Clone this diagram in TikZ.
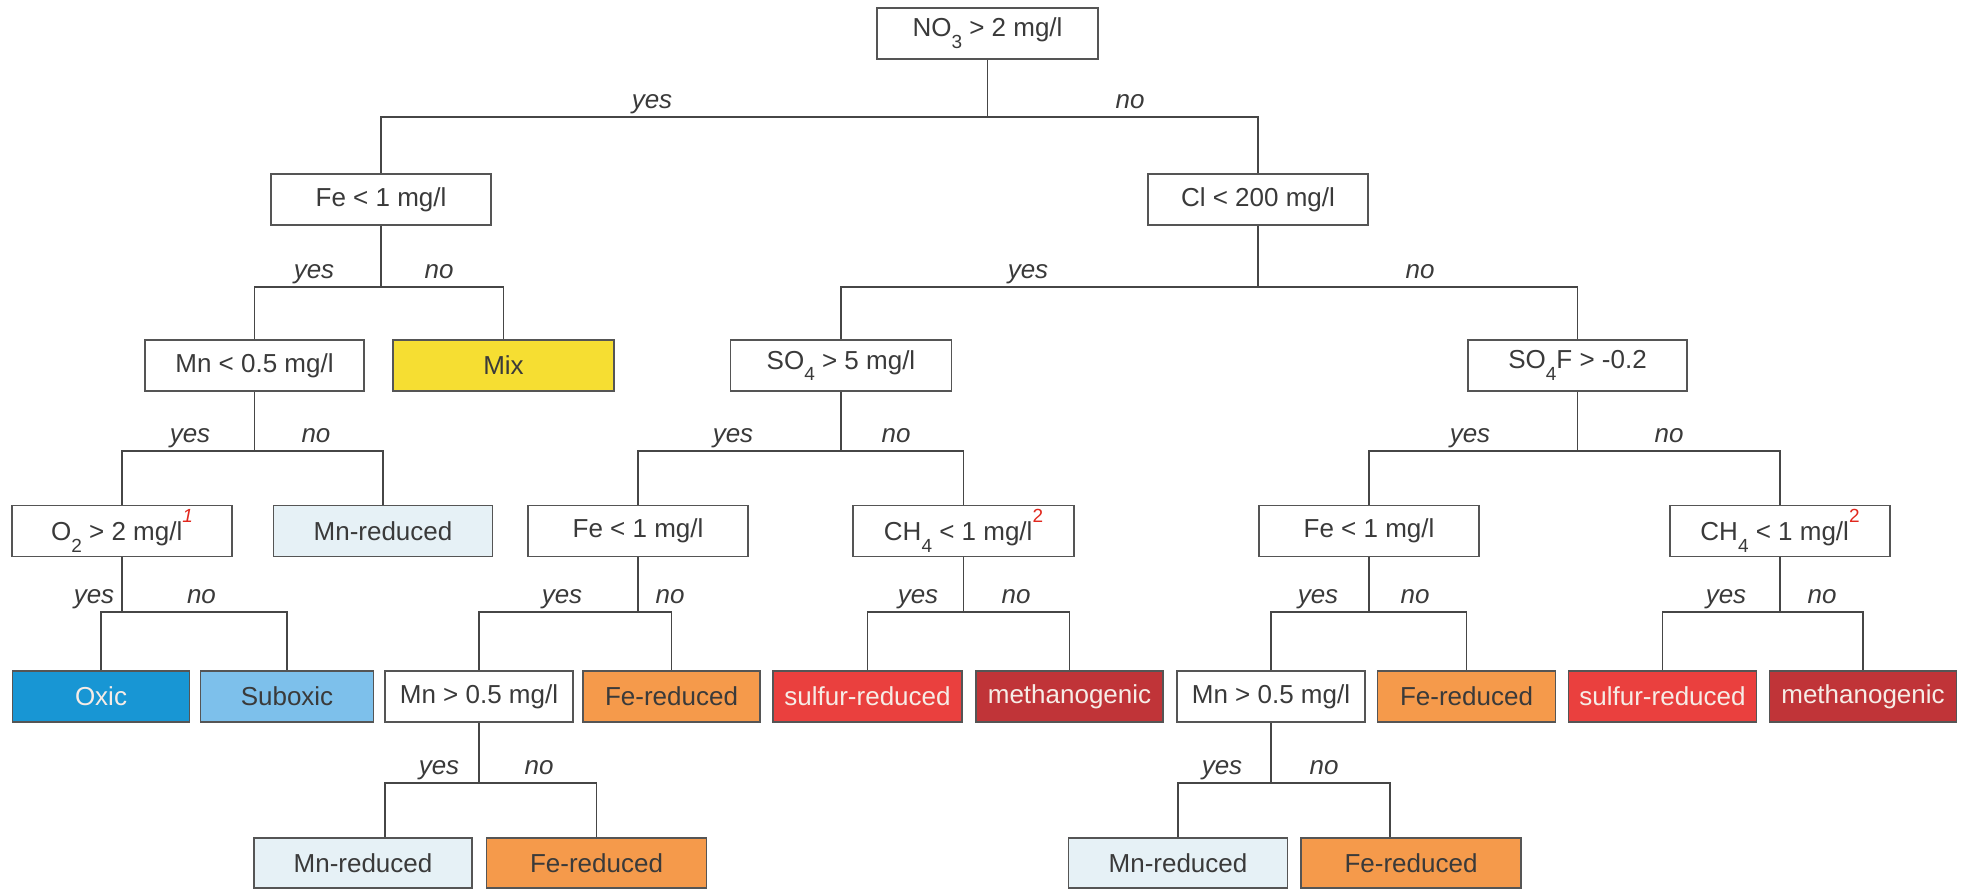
\documentclass[tikz,border=0pt]{standalone}
\usepackage{fontspec}
\setmainfont{Liberation Sans}
\definecolor{oxicblue}{RGB}{24,150,212}
\definecolor{suboxblue}{RGB}{125,192,235}
\definecolor{mnlight}{RGB}{230,241,246}
\definecolor{mixyellow}{RGB}{246,222,50}
\definecolor{feorange}{RGB}{245,154,75}
\definecolor{sulfred}{RGB}{234,64,62}
\definecolor{methred}{RGB}{192,52,56}
\definecolor{boxdraw}{RGB}{85,85,85}
\definecolor{linegray}{RGB}{70,70,70}
\definecolor{textdark}{RGB}{58,58,58}
\definecolor{textlight}{RGB}{246,236,230}
\definecolor{supred}{RGB}{225,40,30}
\newcommand{\sbs}[1]{\raisebox{-0.45em}{\fontsize{19}{19}\selectfont #1}}
\newcommand{\spr}[1]{\raisebox{0.7em}{\fontsize{19}{19}\selectfont\color{supred}#1}}
\begin{document}
\begin{tikzpicture}[x=1pt,y=-1pt,
  box/.style={draw=boxdraw,line width=1.6pt,minimum height=51pt,inner sep=0pt,
    text=textdark,fill=white,font=\fontsize{26}{30}\selectfont},
  lightt/.style={text=textlight},
  conn/.style={draw=linegray,line width=1.5pt},
  lab/.style={anchor=base,inner sep=0pt,text=textdark,font=\itshape\fontsize{26}{30}\selectfont}]
\fill[white] (0,0) rectangle (1965,891);
\useasboundingbox (0,0) rectangle (1965,891);
% row 1
\node[box,minimum width=221pt] (root) at (987.5,33.5) {NO\sbs{3} > 2 mg/l};
% row 2
\node[box,minimum width=220pt] (fe1) at (381,199.5) {Fe < 1 mg/l};
\node[box,minimum width=220pt] (cl) at (1258,199.5) {Cl < 200 mg/l};
% row 3
\node[box,minimum width=219pt] (mn1) at (254.5,365.5) {Mn < 0.5 mg/l};
\node[box,minimum width=221pt,fill=mixyellow] (mix) at (503.5,365.5) {Mix};
\node[box,minimum width=221pt] (so4) at (841,365.5) {SO\sbs{4} > 5 mg/l};
\node[box,minimum width=219pt] (so4f) at (1577.5,365.5) {SO\sbs{4}F > -0.2};
% row 4
\node[box,minimum width=220pt] (o2) at (122,531) {O\sbs{2} > 2 mg/l\spr{\itshape 1}};
\node[box,minimum width=219pt,fill=mnlight] (mnred1) at (383,531) {Mn-reduced};
\node[box,minimum width=220pt] (fe2) at (638,531) {Fe < 1 mg/l};
\node[box,minimum width=221pt] (ch4a) at (963.5,531) {CH\sbs{4} < 1 mg/l\spr{2}};
\node[box,minimum width=220pt] (fe3) at (1369,531) {Fe < 1 mg/l};
\node[box,minimum width=220pt] (ch4b) at (1780,531) {CH\sbs{4} < 1 mg/l\spr{2}};
% row 5
\node[box,minimum width=177pt,fill=oxicblue,lightt] (oxic) at (101,696.5) {Oxic};
\node[box,minimum width=173pt,fill=suboxblue] (suboxic) at (287,696.5) {Suboxic};
\node[box,minimum width=188pt] (mn2) at (479,696.5) {Mn > 0.5 mg/l};
\node[box,minimum width=177pt,fill=feorange] (fered1) at (671.5,696.5) {Fe-reduced};
\node[box,minimum width=189pt,fill=sulfred,lightt] (sulf1) at (867.5,696.5) {sulfur-reduced};
\node[box,minimum width=187pt,fill=methred,lightt] (meth1) at (1069.5,696.5) {methanogenic};
\node[box,minimum width=188pt] (mn3) at (1271,696.5) {Mn > 0.5 mg/l};
\node[box,minimum width=178pt,fill=feorange] (fered2) at (1466.5,696.5) {Fe-reduced};
\node[box,minimum width=188pt,fill=sulfred,lightt] (sulf2) at (1662.5,696.5) {sulfur-reduced};
\node[box,minimum width=187pt,fill=methred,lightt] (meth2) at (1863,696.5) {methanogenic};
% row 6
\node[box,minimum width=218pt,fill=mnlight,minimum height=50pt] (mnred2) at (363,863) {Mn-reduced};
\node[box,minimum width=220pt,fill=feorange,minimum height=50pt] (fered3) at (596.5,863) {Fe-reduced};
\node[box,minimum width=219pt,fill=mnlight,minimum height=50pt] (mnred3) at (1178,863) {Mn-reduced};
\node[box,minimum width=220pt,fill=feorange,minimum height=50pt] (fered4) at (1411,863) {Fe-reduced};
% connectors
\draw[conn] (root.south) -- ++(0,57) coordinate (jroot);
\draw[conn] (fe1.north) |- (jroot) -| (cl.north);
\draw[conn] (fe1.south) -- ++(0,61) coordinate (jfe1);
\draw[conn] (mn1.north) |- (jfe1) -| (mix.north);
\draw[conn] (cl.south) -- ++(0,61) coordinate (jcl);
\draw[conn] (so4.north) |- (jcl) -| (so4f.north);
\draw[conn] (mn1.south) -- ++(0,59) coordinate (jmn1);
\draw[conn] (o2.north) |- (jmn1) -| (mnred1.north);
\draw[conn] (so4.south) -- ++(0,59) coordinate (jso4);
\draw[conn] (fe2.north) |- (jso4) -| (ch4a.north);
\draw[conn] (so4f.south) -- ++(0,59) coordinate (jso4f);
\draw[conn] (fe3.north) |- (jso4f) -| (ch4b.north);
\draw[conn] (o2.south) -- ++(0,54.5) coordinate (jo2);
\draw[conn] (oxic.north) |- (jo2) -| (suboxic.north);
\draw[conn] (fe2.south) -- ++(0,54.5) coordinate (jfe2);
\draw[conn] (mn2.north) |- (jfe2) -| (fered1.north);
\draw[conn] (ch4a.south) -- ++(0,54.5) coordinate (jch4a);
\draw[conn] (sulf1.north) |- (jch4a) -| (meth1.north);
\draw[conn] (fe3.south) -- ++(0,54.5) coordinate (jfe3);
\draw[conn] (mn3.north) |- (jfe3) -| (fered2.north);
\draw[conn] (ch4b.south) -- ++(0,54.5) coordinate (jch4b);
\draw[conn] (sulf2.north) |- (jch4b) -| (meth2.north);
\draw[conn] (mn2.south) -- ++(0,60) coordinate (jmn2);
\draw[conn] ([xshift=22pt]mnred2.north) |- (jmn2) -| (fered3.north);
\draw[conn] (mn3.south) -- ++(0,60) coordinate (jmn3);
\draw[conn] (mnred3.north) |- (jmn3) -| ([xshift=-21pt]fered4.north);
% labels
\node[lab] (y0) at (652,108) {yes};   \node[lab] (n0) at (1130,108) {no};
\node[lab] (y1) at (314,278) {yes};   \node[lab] (n1) at (439,278) {no};
\node[lab] (y2) at (1028,278) {yes};  \node[lab] (n2) at (1420,278) {no};
\node[lab] (y3) at (190,442) {yes};   \node[lab] (n3) at (316,442) {no};
\node[lab] (y4) at (733,442) {yes};   \node[lab] (n4) at (896,442) {no};
\node[lab] (y5) at (1470,442) {yes};  \node[lab] (n5) at (1669,442) {no};
\node[lab] (y6) at (94,603) {yes};    \node[lab] (n6) at (201.5,603) {no};
\node[lab] (y7) at (562,603) {yes};   \node[lab] (n7) at (670,603) {no};
\node[lab] (y8) at (918,603) {yes};   \node[lab] (n8) at (1016,603) {no};
\node[lab] (y9) at (1318,603) {yes};  \node[lab] (n9) at (1415,603) {no};
\node[lab] (y10) at (1726,603) {yes}; \node[lab] (n10) at (1822,603) {no};
\node[lab] (y11) at (439,774) {yes};  \node[lab] (n11) at (539,774) {no};
\node[lab] (y12) at (1222,774) {yes}; \node[lab] (n12) at (1324,774) {no};
\end{tikzpicture}
\end{document}
